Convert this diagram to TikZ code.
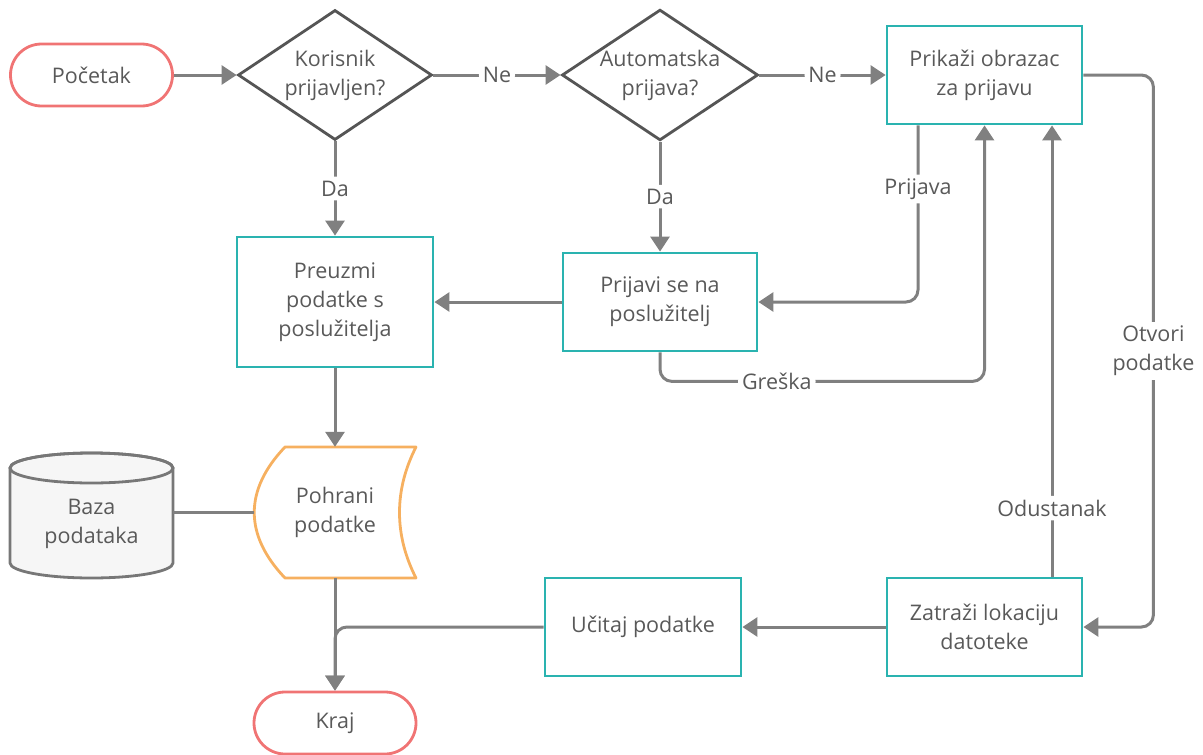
\documentclass[tikz,border=0pt]{standalone}
\usepackage{fontspec}
\setmainfont{Open Sans}
\usetikzlibrary{arrows.meta,shapes.geometric}
\definecolor{cTeal}{HTML}{2AB3B0}
\definecolor{cRed}{HTML}{F07474}
\definecolor{cOrange}{HTML}{F6B060}
\definecolor{cDia}{HTML}{555555}
\definecolor{cLine}{HTML}{808080}
\definecolor{cText}{HTML}{595959}
\definecolor{cCyl}{HTML}{F6F6F6}
\definecolor{cCylLine}{HTML}{777777}
\begin{document}
\begin{tikzpicture}[x=1pt,y=-1pt,
  font=\fontsize{21.5}{29}\selectfont, text=cText,
  term/.style={draw=cRed, line width=2.8pt, rounded corners=31pt, minimum height=62pt, align=center, inner sep=0pt},
  proc/.style={draw=cTeal, line width=2.8pt, minimum height=98pt, align=center, inner sep=0pt},
  dia/.style={diamond, draw=cDia, line width=2.8pt, minimum width=194pt, minimum height=130pt, aspect=1.5, align=center, inner sep=0pt},
  plain/.style={align=center, inner sep=0pt},
  conn/.style={draw=cLine, line width=3pt, rounded corners=12pt, -{Triangle[length=15pt,width=19pt]}},
  link/.style={draw=cLine, line width=3pt},
  lbl/.style={fill=white, inner sep=4pt, align=center, text=cText}
]
\useasboundingbox (0,0) rectangle (1203,755);

% nodes
\node[term, minimum width=162pt] (start) at (91.5,75) {Početak};
\node[dia] (d1) at (335,75) {Korisnik\\prijavljen?};
\node[dia] (d2) at (660,75) {Automatska\\prijava?};
\node[proc, minimum width=195pt] (prikazi) at (984.5,75) {Prikaži obrazac\\za prijavu};
\node[proc, minimum width=196pt, minimum height=130pt] (preuzmi) at (335,302) {Preuzmi\\podatke s\\poslužitelja};
\node[proc, minimum width=194pt] (prijavi) at (660,302) {Prijavi se na\\poslužitelj};
\node[proc, minimum width=196pt] (ucitaj) at (643,627) {Učitaj podatke};
\node[proc, minimum width=195pt] (zatrazi) at (984.5,627) {Zatraži lokaciju\\datoteke};
\node[term, minimum width=162pt] (kraj) at (335,723) {Kraj};

% stored data shape
\draw[cOrange, line width=2.8pt, line join=round]
  (285,447) -- (416,447) .. controls (394,490) and (394,535) .. (416,578)
  -- (285,578) .. controls (244,535) and (244,490) .. (285,447) -- cycle;
\node[plain, minimum width=162pt, minimum height=131pt] (pohrani) at (335,512.5) {Pohrani\\podatke};

% database cylinder
\filldraw[fill=cCyl, draw=cCylLine, line width=2.8pt]
  (10,468) -- (10,563) arc[start angle=180, end angle=360, x radius=81.5pt, y radius=15pt] -- (173,468)
  arc[start angle=0, end angle=180, x radius=81.5pt, y radius=15pt] -- cycle;
\draw[cCylLine, line width=2.8pt] (91.5,468) ellipse [x radius=81.5pt, y radius=15pt];
\node[plain, minimum width=163pt, minimum height=95pt] (baza) at (91.5,524) {Baza\\podataka};

% connectors
\draw[conn] (start) -- (d1);
\draw[conn] (d1) -- node[lbl]{Ne} (d2);
\draw[conn] (d2) -- node[lbl]{Ne} (prikazi);
\draw[conn] (d1) -- node[lbl]{Da} (preuzmi);
\draw[conn] (d2) -- node[lbl]{Da} (prijavi);
\draw[conn] ([xshift=-66.5pt]prikazi.south) |- node[lbl, pos=0.18]{Prijava} (prijavi.east);
\draw[conn] (prijavi.south) -- ++(0,29) -| node[lbl, pos=0.18]{Greška} (prikazi.south);
\draw[conn] (prijavi) -- (preuzmi);
\draw[conn] (preuzmi) -- (pohrani);
\draw[link] (pohrani.west) -- (pohrani.west -| baza.east);
\draw[conn] (pohrani) -- (kraj);
\draw[conn] (ucitaj.west) -| (kraj.north);
\draw[conn] (zatrazi) -- (ucitaj);
\draw[conn] (prikazi.east) -- ++(70,0) |- node[lbl, pos=0.25]{Otvori\\podatke} (zatrazi.east);
\draw[conn] ([xshift=67.5pt]zatrazi.north) -- node[lbl, pos=0.152]{Odustanak} ([xshift=67.5pt]prikazi.south);
\end{tikzpicture}
\end{document}
